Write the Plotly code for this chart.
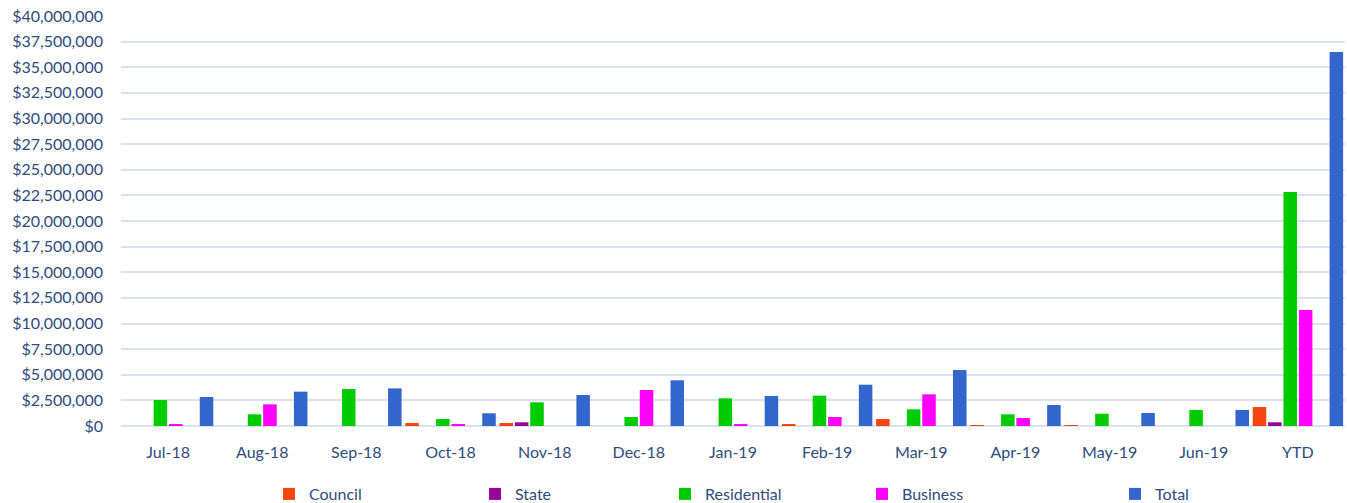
import plotly.graph_objects as go

categories = ["Jul-18", "Aug-18", "Sep-18", "Oct-18", "Nov-18", "Dec-18",
              "Jan-19", "Feb-19", "Mar-19", "Apr-19", "May-19", "Jun-19", "YTD"]

council = [0, 0, 0, 290000, 290000, 0, 0, 120000, 680000, 60000, 30000, 0, 1850000]
state = [0, 0, 0, 0, 360000, 0, 0, 0, 0, 0, 0, 0, 360000]
residential = [2540000, 1140000, 3610000, 680000, 2310000, 880000, 2700000, 2960000,
               1630000, 1140000, 1200000, 1560000, 22830000]
business = [200000, 2110000, 0, 150000, 0, 3510000, 160000, 880000,
            3090000, 780000, 0, 0, 11320000]
spacer = [None] * 13
total = [2830000, 3350000, 3670000, 1240000, 3020000, 4460000, 2930000, 4030000,
         5460000, 2050000, 1270000, 1560000, 36490000]

y_ticks = [i * 2500000 for i in range(17)]
y_tick_text = ["${:,.0f}".format(v) for v in y_ticks]

series = [
    ("Council", council, "#F4470F", "legend"),
    ("State", state, "#990099", "legend2"),
    ("Residential", residential, "#00CC00", "legend3"),
    ("Business", business, "#FF00FF", "legend4"),
    ("", spacer, "#FFFFFF", None),
    ("Total", total, "#3366CC", "legend5"),
]

TEXT = "#2F4B7C"
FONT = "Lato"

fig = go.Figure()
for name, vals, color, leg in series:
    if leg is None:
        fig.add_trace(go.Bar(x=categories, y=vals, name="spacer", showlegend=False,
                             marker=dict(color=color), hoverinfo="skip"))
    else:
        fig.add_trace(go.Bar(x=categories, y=vals, name=name, legend=leg,
                             marker=dict(color=color, line=dict(width=0))))

W, H = 1347, 503
ml, mr, mt, mb = 121, 2, 16, 77
ph = H - mt - mb
pw = W - ml - mr

def lx(px):
    return (px - ml) / pw

ly = (426 - 494) / ph

legend_common = dict(orientation="h", yanchor="middle", y=ly, xanchor="left",
                     font=dict(family=FONT, size=16, color=TEXT),
                     bgcolor="rgba(0,0,0,0)", itemwidth=30, tracegroupgap=0)
layout_legends = {}
for key, px in [("legend", 287), ("legend2", 493), ("legend3", 683),
                ("legend4", 880), ("legend5", 1133)]:
    layout_legends[key] = dict(legend_common, x=lx(px - 18))

fig.update_layout(
    width=W, height=H,
    margin=dict(l=ml, r=mr, t=mt, b=mb, autoexpand=False),
    paper_bgcolor="white", plot_bgcolor="white",
    barmode="group", bargap=0.02, bargroupgap=0.12,
    font=dict(family=FONT, size=16, color=TEXT),
    showlegend=True,
    **layout_legends,
)
fig.update_xaxes(type="category", showgrid=False, showline=False, zeroline=False,
                 ticks="", ticklabelstandoff=15, automargin=False,
                 range=[-0.5, 12.5],
                 tickfont=dict(family=FONT, size=16, color=TEXT))
fig.update_yaxes(range=[0, 40000000], tickvals=y_ticks, ticktext=y_tick_text,
                 showgrid=True, gridcolor="#D9E2F3", gridwidth=2,
                 zeroline=True, zerolinecolor="#D9E2F3", zerolinewidth=2,
                 showline=False, ticks="", ticklabelstandoff=17, automargin=False,
                 tickfont=dict(family=FONT, size=16, color=TEXT))

fig.write_html(
    "out.html",
    config={"displayModeBar": False},
    post_script="document.body.style.margin='0';document.body.style.overflow='hidden';",
)
